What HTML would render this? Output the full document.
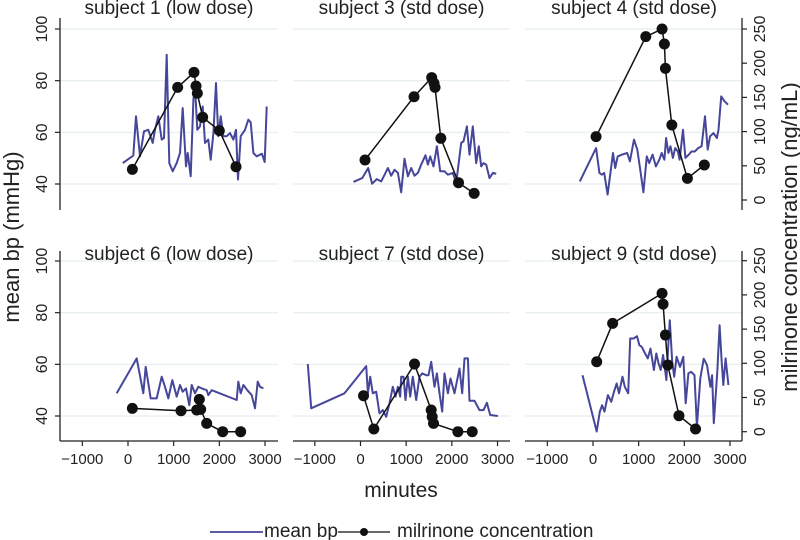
<!DOCTYPE html>
<html><head><meta charset="utf-8"><style>
html,body{margin:0;padding:0;background:#fff;}
svg{display:block;font-family:"Liberation Sans",sans-serif;}
</style></head><body>
<svg id="chart" width="800" height="540" viewBox="0 0 800 540" xmlns="http://www.w3.org/2000/svg"></svg>
<script>
const panelTitles = ["subject 1 (low dose)","subject 3 (std dose)","subject 4 (std dose)","subject 6 (low dose)","subject 7 (std dose)","subject 9 (std dose)"];
const xTicks = [-1000,0,1000,2000,3000];
const bpTicks = [40,60,80,100];
const concTicks = [0,50,100,150,200,250];

const bpTime1 = [-117,117,175,263,350,445,540,591,664,737,788,847,905,978,1066,1139,1197,1270,1307,1372,1431,1467,1518,1577,1635,1686,1759,1810,1869,1927,1978,2029,2088,2161,2234,2307,2365,2409,2467,2562,2635,2686,2745,2818,2891,2935,2993,3037];
const bpVal1 = [48.1,51,66.2,50.7,60.4,61,55.9,61,66.2,57.2,57.8,90,48.1,44.9,48.1,52,69.4,46.8,52,43,72.6,77.8,61,62.3,70,55.9,57.2,49.4,59.7,79.1,58.5,66.2,58.5,58.5,59.7,57.2,61,41.7,58.5,61,64.9,63.9,52,50.7,51.4,51.7,48.5,70];
const cTime1 = [95,1088,1445,1489,1518,1635,2000,2365];
const cVal1 = [44.8,164.7,186.6,166.7,156,120.9,101.4,48.7];

const bpTime3 = [-153,37,168,255,358,453,547,599,672,745,818,891,964,1037,1110,1183,1256,1329,1424,1475,1526,1599,1672,1745,1840,1913,2022,2095,2205,2256,2329,2387,2460,2533,2591,2643,2694,2752,2825,2898,2971];
const bpVal3 = [40.8,42.3,46.2,40.1,41.9,41,44.3,46.2,43.2,45.5,44.3,36.8,49.8,43,46.2,43.2,44.3,47.5,51.1,47.5,50.7,46.8,54.6,44.9,44.9,43.6,44.3,40.4,55.9,56.5,62.3,51.4,62.3,48.1,54.6,46.8,48.1,47.5,42.3,44.3,44];
const cTime3 = [99,1172,1559,1610,1632,1759,2146,2489];
const cVal3 = [58.5,151,179,170.6,164.7,90.2,25.3,9.7];

const bpTime4 = [-289,67,141,193,245,319,437,486,541,637,748,808,897,971,1045,1104,1178,1230,1304,1378,1452,1504,1563,1600,1652,1697,1749,1800,1860,1897,1971,2023,2097,2156,2230,2304,2379,2453,2512,2564,2638,2712,2749,2808,2882,2957];
const bpVal4 = [41,53.9,44.3,43.6,44.3,35.9,52,46.2,50.7,51.4,52,48.8,57.2,53.3,44.3,36.8,50.7,48.1,51.4,46.8,49.4,52,49.4,57.8,52,54.6,50.1,53.9,52.6,49.4,61,50.1,51.4,52.6,52.6,53.9,54.6,66.2,53.3,58.5,59.7,57.8,61,73.9,72,70.7];
const cTime4 = [67,1156,1512,1563,1586,1726,2067,2438];
const cVal4 = [92.6,238.8,250,228,192.5,109.6,31.7,51.2];

const bpTime6 = [-248,190,336,387,497,628,737,810,883,971,1066,1139,1197,1270,1343,1394,1467,1540,1613,1723,1759,1832,2380,2416,2467,2526,2613,2708,2781,2840,2891,2964];
const bpVal6 = [48.8,62.3,48.8,59,46.8,46.8,55.2,51.3,46.8,53.9,47.5,52,49.4,50.7,44.2,52,48.8,51.3,50.7,50,48.1,50,46.2,53.3,48.8,52,50,48.1,43,53.3,51.3,50.7];
const cTime6 = [95,1161,1504,1562,1591,1723,2073,2467];
const cVal6 = [34.1,30.7,31.7,47.3,32.7,12.2,0,0];

const bpTime7 = [-1153,-1080,-350,124,161,212,270,343,416,489,562,635,708,767,818,869,891,942,986,1037,1088,1146,1219,1292,1350,1438,1489,1548,1621,1672,1730,1789,1840,1913,1971,2059,2168,2227,2278,2351,2387,2497,2606,2694,2767,2840,3008];
const bpVal7 = [60.1,43,48.8,59.3,48.8,55.2,48.8,49.4,41,42.3,39.7,44.9,51.3,47.5,51.3,47.5,55.2,55.2,46.2,55.2,47.5,55.2,46.2,55.2,56.5,55.8,55.8,61,51.3,56.5,48.8,41.7,56.5,48.8,54.5,48.8,58.4,48.8,62.3,62.3,45.9,45.9,42.3,42.3,45.1,40.4,40];
const cTime7 = [66,292,1183,1548,1570,1599,2132,2446];
const cVal7 = [52.6,3.9,98.9,31.7,21.9,12.2,0,0];

const bpTime9 = [-230,81,148,200,252,326,400,459,519,570,645,697,771,815,889,963,1015,1067,1141,1200,1260,1334,1386,1437,1482,1534,1608,1645,1682,1734,1778,1830,1904,1978,2030,2089,2149,2223,2275,2349,2423,2497,2571,2608,2645,2719,2771,2816,2853,2904,2964];
const bpVal9 = [55.8,34,41.7,44.2,41.7,48.1,45.5,49.4,52.6,48.8,55.2,51.3,48.8,70,70,70.9,67.4,66.8,64.2,62.3,66.1,57.8,64.2,60.3,57.8,63.6,53.9,66.1,77.1,61,55.2,62.9,59,62.9,44.9,56.5,57.1,55.8,35.9,54.5,62.2,59.7,51.3,55.8,37.2,56.5,75.1,61.6,52,62.3,52];
const cTime9 = [81,430,1512,1534,1586,1638,1882,2245];
const cVal9 = [102.3,158.4,202.2,186.6,141.3,97.5,23.4,3.9];

const bpTimes = [bpTime1,bpTime3,bpTime4,bpTime6,bpTime7,bpTime9];
const bpVals = [bpVal1,bpVal3,bpVal4,bpVal6,bpVal7,bpVal9];
const cTimes = [cTime1,cTime3,cTime4,cTime6,cTime7,cTime9];
const cVals = [cVal1,cVal3,cVal4,cVal6,cVal7,cVal9];

const svg = document.getElementById('chart');
const NS = 'http://www.w3.org/2000/svg';
function mk(tag, attrs, parent, text){
  const e = document.createElementNS(NS, tag);
  for (const k in attrs) e.setAttribute(k, attrs[k]);
  if (text !== undefined) e.textContent = text;
  (parent||svg).appendChild(e);
  return e;
}
const colStart = [60,293,525], colEnd = [278,510,742];
function xScale(col, t){ return 128 + col*232.5 + t*0.04567; }
const rowBp40 = [184,416], rowC0 = [200,431.7];
function yBp(row, v){ return rowBp40[row] - (v-40)*2.583; }
function yC(row, v){ return rowC0[row] - v*0.684; }
const rowAxisTop = [18,251], rowAxisBot = [210,441];

for (let p=0;p<6;p++){
  const row = Math.floor(p/3), col = p%3;
  const g = mk('g',{});
  
  
  bpTicks.forEach(v=>{
    const l = mk('line',{x1:colStart[col],x2:colEnd[col],y1:yBp(row,v),y2:yBp(row,v),stroke:'#eaf0f0','stroke-width':1.5},g);
    
    
  });
  const ttl = mk('text',{x:128 + col*232.5 + 41,y:row?260:14,'font-size':19,'text-anchor':'middle',fill:'#222'},g,panelTitles[p]);
  
  
  const bpPts = bpTimes[p].map((t,i)=>xScale(col,t).toFixed(1)+','+yBp(row,bpVals[p][i]).toFixed(1)).join(' ');
  const bl = mk('polyline',{points:bpPts,fill:'none',stroke:'#46469a','stroke-width':2,'stroke-linejoin':'round'},g);
  
  
  const cPts = cTimes[p].map((t,i)=>xScale(col,t).toFixed(1)+','+yC(row,cVals[p][i]).toFixed(1)).join(' ');
  const cl = mk('polyline',{points:cPts,fill:'none',stroke:'#111','stroke-width':1.5},g);
  
  
  cTimes[p].forEach((t,i)=>{
    const d = mk('circle',{cx:xScale(col,t),cy:yC(row,cVals[p][i]),r:5.5,fill:'#111'},g);
    
    
  });
  if (row===1){
    const ax = mk('line',{x1:colStart[col],x2:colEnd[col],y1:441,y2:441,stroke:'#222','stroke-width':1.3},g);
    
    
    xTicks.forEach(t=>{
      const x = xScale(col,t);
      mk('line',{x1:x,x2:x,y1:441,y2:446,stroke:'#222','stroke-width':1.2},g);
      const tl = mk('text',{x:x,y:464,'font-size':15,'text-anchor':'middle',fill:'#222'},g,t<0?'\u2212'+Math.abs(t):String(t));
      
      
    });
  }
}
for (let row=0;row<2;row++){
  const la = mk('line',{x1:60,x2:60,y1:rowAxisTop[row],y2:rowAxisBot[row],stroke:'#222','stroke-width':1.3});
  
  
  bpTicks.forEach(v=>{
    const y = yBp(row,v);
    mk('line',{x1:55,x2:60,y1:y,y2:y,stroke:'#222','stroke-width':1.2});
    const t = mk('text',{x:0,y:0,'font-size':16,'text-anchor':'middle',fill:'#222',transform:`translate(47,${y}) rotate(-90)`},svg,String(v));
    
    
  });
  const ra = mk('line',{x1:742,x2:742,y1:rowAxisTop[row],y2:rowAxisBot[row],stroke:'#222','stroke-width':1.3});
  
  
  concTicks.forEach(v=>{
    const y = yC(row,v);
    mk('line',{x1:742,x2:747,y1:y,y2:y,stroke:'#222','stroke-width':1.2});
    const t = mk('text',{x:0,y:0,'font-size':16,'text-anchor':'middle',fill:'#222',transform:`translate(765,${y}) rotate(-90)`},svg,String(v));
    
    
  });
}
const yt = mk('text',{x:0,y:0,'font-size':22,'text-anchor':'middle',fill:'#222',transform:'translate(19,237) rotate(-90)'},svg,'mean bp (mmHg)');


const rt = mk('text',{x:0,y:0,'font-size':22,'text-anchor':'middle',fill:'#222',transform:'translate(797,237) rotate(-90)'},svg,'milrinone concentration (ng/mL)');


const xt = mk('text',{x:401,y:497,'font-size':21,'text-anchor':'middle',fill:'#222'},svg,'minutes');


const lg = mk('g',{});


mk('line',{x1:210,x2:263,y1:532,y2:532,stroke:'#46469a','stroke-width':1.8},lg);
const l1 = mk('text',{x:264,y:537,'font-size':19,fill:'#222'},lg,'mean bp');


mk('line',{x1:338,x2:390,y1:532,y2:532,stroke:'#111','stroke-width':1.3},lg);
mk('circle',{cx:364,cy:532,r:4,fill:'#111'},lg);
const l2 = mk('text',{x:397,y:537,'font-size':19,fill:'#222'},lg,'milrinone concentration');


</script>
</body></html>
